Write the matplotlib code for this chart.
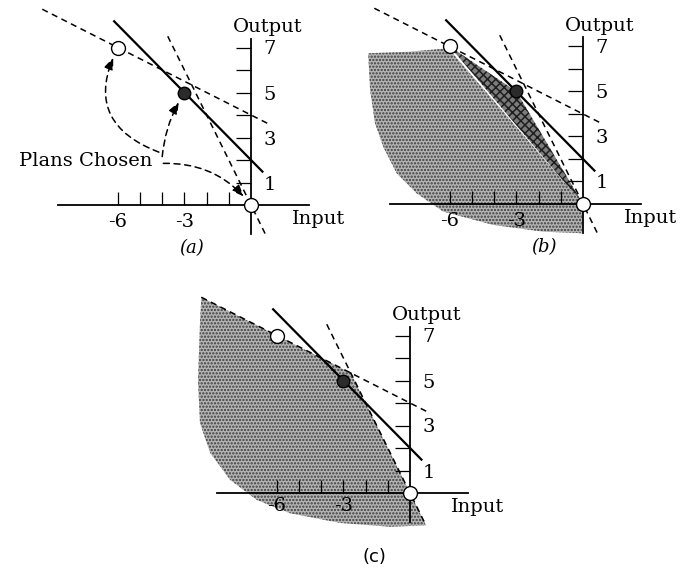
import matplotlib
matplotlib.use("Agg")
import matplotlib.pyplot as plt
import numpy as np
from matplotlib.patches import Polygon

plt.rcParams["font.family"] = ["DejaVu Serif"]
plt.rcParams["axes.unicode_minus"] = False
plt.rcParams["hatch.linewidth"] = 1.1

# ---- plans (input, output) ----
plan_input = [-6, -3, 0]
plan_output = [7, 5, 0]
plan_filled = [False, True, False]

# ---- price lines: output = intercept + slope * input ----
line_slopes = [-0.5, -1.0, -2.0]
line_intercepts = [4.0, 2.0, 0.0]
line_x_from = [-9.4, -6.2, -3.75]
line_x_to = [0.75, 0.55, 0.7]
line_solid = [False, True, False]

# ---- axes ticks ----
x_major = [-6, -3]
x_minor = [-5, -4, -2, -1]
y_major = [1, 3, 5, 7]
y_minor = [2, 4, 6]

# ---- shaded production sets ----
# panel (b): outline of the light set, top-left corner round to the input axis
set_b_x = [-6.07, -7.8, -9.67, -9.67, -9.59, -9.37, -9.0, -8.39, -7.49,
           -6.29, -4.04, -1.79, -0.06, 0.0]
set_b_y = [6.92, 6.77, 6.7, 6.55, 5.07, 3.59, 2.55, 1.36, 0.47,
           -0.34, -0.93, -1.23, -1.3, 0.0]
# panel (c): lower-left rim of the set bounded above by the two dashed lines
set_c_rim_x = [0.72, -0.9, -3.15, -5.4, -6.9, -8.1, -9.0, -9.46, -9.55, -9.46, -9.4]
set_c_rim_y = [-1.44, -1.5, -1.33, -0.9, -0.31, 0.58, 1.78, 3.1, 5.0, 7.56, 8.7]

W, H = 681, 572
UX, UY = 22.2, 22.5
XLIM = (-10.6, 3.8)
YLIM = (-3.0, 9.0)

LIGHT = dict(facecolor="#b4b4b4", edgecolor="#3c3c3c", lw=0, hatch=".....")
DARK = dict(facecolor="#7c7c7c", edgecolor="#1e1e1e", lw=0, hatch="xxxx")

fig = plt.figure(figsize=(W / 100, H / 100), dpi=100)


def make_panel(ox, oy, label_pad):
    l = ox + UX * XLIM[0]
    r = ox + UX * XLIM[1]
    t = oy - UY * YLIM[1]
    b = oy - UY * YLIM[0]
    ax = fig.add_axes([l / W, 1 - b / H, (r - l) / W, (b - t) / H])
    ax.set_xlim(XLIM)
    ax.set_ylim(YLIM)
    ax.patch.set_visible(False)
    for s in ("top", "left"):
        ax.spines[s].set_visible(False)
    ax.spines["bottom"].set_position(("data", 0))
    ax.spines["bottom"].set_bounds(-8.7, 2.6)
    ax.spines["right"].set_position(("data", 0))
    ax.spines["right"].set_bounds(-1.3, 7.4)
    for s in ("bottom", "right"):
        ax.spines[s].set_linewidth(1.3)
    ax.yaxis.tick_right()
    ax.xaxis.tick_bottom()
    ax.set_xticks(x_major)
    ax.set_xticks(x_minor, minor=True)
    ax.set_yticks(y_major)
    ax.set_yticks(y_minor, minor=True)
    ax.tick_params(axis="x", which="both", direction="in", length=9.5,
                   width=0.9, pad=label_pad, labelsize=14)
    ax.tick_params(axis="y", which="both", direction="in", length=10.5,
                   width=0.9, pad=9, labelsize=14)
    ax.text(0.77, 7.69, "Output", ha="center", va="baseline", fontsize=14)
    ax.text(1.85, -0.62, "Input", ha="left", va="center", fontsize=14)
    return ax


def draw_lines(ax):
    for m, c, x0, x1, solid in zip(line_slopes, line_intercepts,
                                   line_x_from, line_x_to, line_solid):
        xs = np.array([x0, x1])
        if solid:
            ax.plot(xs, c + m * xs, color="k", lw=1.6, zorder=3,
                    solid_capstyle="butt")
        else:
            ax.plot(xs, c + m * xs, color="k", lw=1.1, dashes=(4, 3), zorder=3)


def draw_plans(ax):
    for x, y, filled in zip(plan_input, plan_output, plan_filled):
        ax.plot(x, y, "o", ms=10 if not filled else 9,
                mfc="#2b2b2b" if filled else "white", mec="k", mew=1.0,
                zorder=6, clip_on=False)


# ---------------- (a) ----------------
ax_a = make_panel(251, 205, 6)
draw_lines(ax_a)
draw_plans(ax_a)
ax_a.text(-2.66, -1.91, "(a)", ha="center", va="center", fontsize=13,
          style="italic")
ax_a.text(-4.45, 1.96, "Plans Chosen", ha="right", va="center", fontsize=14)
arrow_starts = [(-4.15, 2.35), (-4.0, 2.15), (-3.95, 1.85)]
arrow_rads = [-0.55, -0.12, -0.25]
for (sx, sy), rad, px, py in zip(arrow_starts, arrow_rads, plan_input, plan_output):
    ax_a.annotate("", xy=(px, py), xytext=(sx, sy),
                  arrowprops=dict(arrowstyle="-|>,head_length=0.7,head_width=0.28",
                                  linestyle=(0, (4, 3)), lw=1.1, color="k",
                                  shrinkA=0, shrinkB=8, mutation_scale=10,
                                  connectionstyle=f"arc3,rad={rad}"),
                  zorder=4)

# ---------------- (b) ----------------
ax_b = make_panel(583, 204, 6)
light_b = list(zip(set_b_x, set_b_y))
ax_b.add_patch(Polygon(light_b, closed=True, zorder=0.5, **LIGHT))
dark_b = list(zip(plan_input, plan_output))
ax_b.add_patch(Polygon(dark_b, closed=True, zorder=0.6, **DARK))
draw_lines(ax_b)
draw_plans(ax_b)
ax_b.text(-1.76, -1.91, "(b)", ha="center", va="center", fontsize=13,
          style="italic")

# ---------------- (c) ----------------
ax_c = make_panel(410, 493, 3)
m1, c1 = line_slopes[0], line_intercepts[0]
m3, c3 = line_slopes[2], line_intercepts[2]
x_cross = (c3 - c1) / (m1 - m3)
top_x = np.array([set_c_rim_x[-1], x_cross])
right_x = np.array([x_cross, set_c_rim_x[0]])
outline_c = ([(x, c1 + m1 * x) for x in top_x]
             + [(x, c3 + m3 * x) for x in right_x]
             + list(zip(set_c_rim_x, set_c_rim_y)))
ax_c.add_patch(Polygon(outline_c, closed=True, zorder=0.5, **LIGHT))
draw_lines(ax_c)
draw_plans(ax_c)
ax_c.text(-1.58, -2.84, "(c)", ha="center", va="center", fontsize=13,
          family="DejaVu Sans")

fig.savefig("out.png", dpi=100)
